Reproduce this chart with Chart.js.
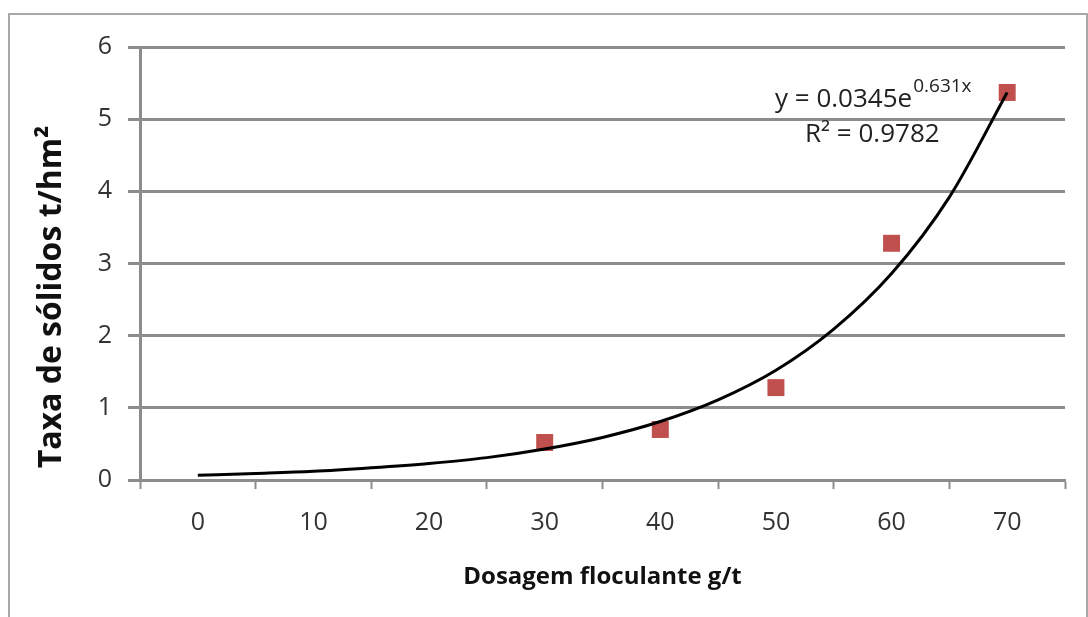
<!DOCTYPE html>
<html lang="pt">
<head>
    <meta charset="UTF-8">
    <title>Taxa de sólidos x Dosagem floculante</title>
    <script src="https://cdn.jsdelivr.net/npm/chart.js"></script>
    <style>
        body {
            margin: 0;
            background: #fff;
            font-family: "Open Sans", sans-serif;
        }
        .frame {
            position: absolute;
            left: 8px;
            top: 13px;
            width: 1080px;
            height: 620px;
            border: 2px solid #a8a8a8;
            box-sizing: border-box;
        }
        #chart {
            position: absolute;
            left: 0;
            top: 0;
        }
    </style>
</head>
<body>

<div class="frame"></div>
<canvas id="chart" width="1088" height="617"></canvas>

<script>
    // measured points
    const dosagem = [30, 40, 50, 60, 70];
    const taxa = [0.52, 0.70, 1.28, 3.28, 5.37];

    // exponential trendline
    const trendX = [0, 5, 10, 15, 20, 25, 30, 35, 40, 45, 50, 55, 60, 65, 70];
    const trendY = [0.065, 0.09, 0.12, 0.17, 0.23, 0.31, 0.43, 0.59, 0.81, 1.11, 1.52, 2.09, 2.86, 3.92, 5.37];

    const xTicks = [-5, 0, 5, 10, 15, 20, 25, 30, 35, 40, 45, 50, 55, 60, 65, 70, 75];
    const yTicks = [0, 1, 2, 3, 4, 5, 6];

    const gray = '#8c8c8c';
    const font = '"Open Sans", sans-serif';

    // trendline equation + y axis title (sits a bit below the plot centre, like in Excel)
    const extraText = {
        id: 'extraText',
        afterDatasetsDraw(chart) {
            const ctx = chart.ctx;
            ctx.save();
            ctx.fillStyle = '#222';
            ctx.textBaseline = 'alphabetic';
            ctx.textAlign = 'left';
            ctx.font = '26px ' + font;
            const main = 'y = 0.0345e';
            ctx.fillText(main, 775, 107);
            const w = ctx.measureText(main).width;
            ctx.font = '19px ' + font;
            ctx.fillText('0.631x', 775 + w + 1, 92);
            ctx.font = '26px ' + font;
            ctx.fillText('R² = 0.9782', 805, 142);

            ctx.translate(52, 297);
            ctx.rotate(-Math.PI / 2);
            ctx.fillStyle = '#111';
            ctx.textAlign = 'center';
            ctx.textBaseline = 'middle';
            ctx.font = 'bold 32px ' + font;
            ctx.fillText('Taxa de sólidos t/hm²', 0, 0);
            ctx.restore();
        }
    };

    const points = dosagem.map((d, i) => ({ x: d, y: taxa[i] }));
    const trend = trendX.map((d, i) => ({ x: d, y: trendY[i] }));

    new Chart(document.getElementById('chart'), {
        type: 'scatter',
        data: {
            datasets: [{
                label: 'Exponencial',
                type: 'line',
                data: trend,
                borderColor: '#000',
                borderWidth: 3,
                pointRadius: 0,
                cubicInterpolationMode: 'monotone',
                fill: false,
                order: 1
            }, {
                label: 'Taxa de sólidos',
                data: points,
                pointStyle: 'rect',
                pointRadius: 12,
                pointHoverRadius: 12,
                backgroundColor: '#c0504d',
                borderColor: '#c0504d',
                borderWidth: 0,
                order: 2
            }]
        },
        options: {
            responsive: false,
            animation: false,
            layout: {
                padding: { top: 47, right: 23, left: 0, bottom: 0 }
            },
            plugins: {
                legend: { display: false },
                tooltip: { enabled: false }
            },
            scales: {
                x: {
                    type: 'linear',
                    min: -5,
                    max: 75,
                    afterBuildTicks: (scale) => {
                        scale.ticks = xTicks.map(v => ({ value: v }));
                    },
                    afterFit: (scale) => { scale.height = 137; },
                    border: { color: gray, width: 3 },
                    grid: {
                        drawOnChartArea: false,
                        tickLength: 9,
                        tickWidth: 2,
                        tickColor: (c) => (c.tick && c.tick.value % 10 === 0) ? 'rgba(0,0,0,0)' : gray
                    },
                    ticks: {
                        autoSkip: false,
                        maxRotation: 0,
                        padding: 19,
                        color: '#333',
                        font: { family: font, size: 25 },
                        callback: (v) => (v % 10 === 0 ? String(v) : '')
                    },
                    title: {
                        display: true,
                        text: 'Dosagem floculante g/t',
                        color: '#111',
                        font: { family: font, size: 24, weight: 'bold' },
                        padding: { top: 8, bottom: 25 }
                    }
                },
                y: {
                    min: 0,
                    max: 6,
                    afterBuildTicks: (scale) => {
                        scale.ticks = yTicks.map(v => ({ value: v }));
                    },
                    afterFit: (scale) => { scale.width = 140; },
                    border: { color: gray, width: 3 },
                    grid: {
                        color: gray,
                        lineWidth: 3,
                        tickLength: 12
                    },
                    ticks: {
                        padding: 16,
                        color: '#333',
                        font: { family: font, size: 25 }
                    }
                }
            }
        },
        plugins: [extraText]
    });
</script>

</body>
</html>
